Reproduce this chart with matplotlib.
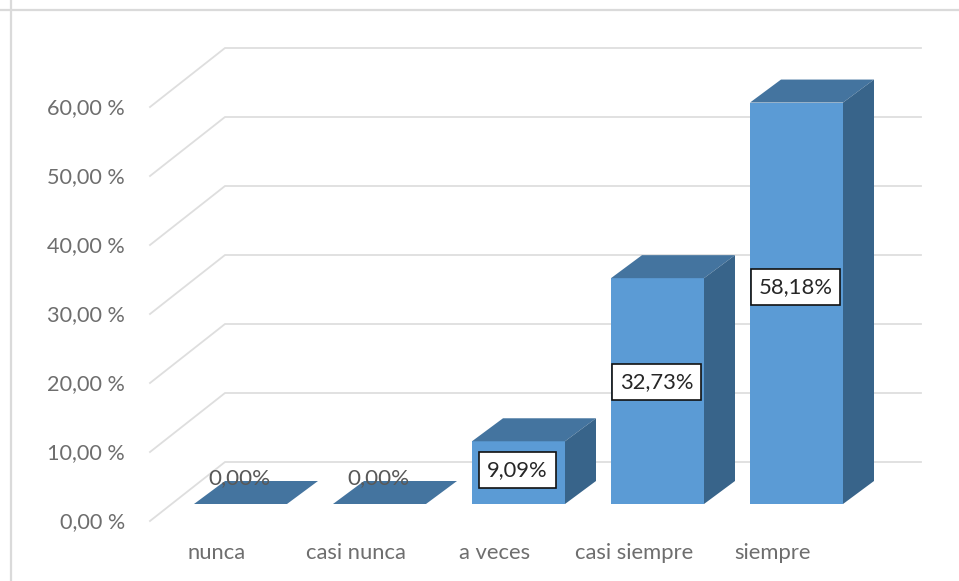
import matplotlib
matplotlib.use("Agg")
import matplotlib.pyplot as plt
from matplotlib.patches import Polygon

categories = ["nunca", "casi nunca", "a veces", "casi siempre", "siempre"]
values = [0.00, 0.00, 9.09, 32.73, 58.18]
value_labels = ["0,00%", "0,00%", "9,09%", "32,73%", "58,18%"]
ticks = [0, 10, 20, 30, 40, 50, 60]
tick_labels = ["0,00 %", "10,00 %", "20,00 %", "30,00 %", "40,00 %", "50,00 %", "60,00 %"]

W, H = 959, 581
X0, DX = 240.5, 139.0      # pixel of first category, pixels per category
Y0, DY = 504.0, 6.9        # pixel of value 0 on bar plane, pixels per percent

BAR_W = 93 / DX
DEPTH_X, DEPTH_Y = 31 / DX, 23 / DY      # bar depth
WALL_FRONT_X, WALL_FRONT_Y = (150 - X0) / DX, (Y0 - 521) / DY
WALL_BACK_X, WALL_BACK_Y = (225 - X0) / DX, (Y0 - 462) / DY
WALL_RIGHT_X = (921 - X0) / DX
TICK_NUDGE = -1.5 / DY

FRONT, TOP, SIDE = "#5B9BD5", "#44749F", "#38648A"
GRID, TEXT = "#DEDEDE", "#6E6E6E"
FONT = "Lato"

fig = plt.figure(figsize=(W / 100, H / 100), dpi=100)
ax = fig.add_axes([0, 0, 1, 1])
ax.set_xlim(-X0 / DX, (W - X0) / DX)
ax.set_ylim((Y0 - H) / DY, Y0 / DY)
ax.axis("off")

# outer chart border (top and left only are visible)
ax.plot(ax.get_xlim(), [(Y0 - 10) / DY] * 2, color="#DADADA", lw=1.6, zorder=1)
ax.plot([(11 - X0) / DX] * 2, ax.get_ylim(), color="#DADADA", lw=1.6, zorder=1)

# walls
for t, lab in zip(ticks, tick_labels):
    ax.plot([WALL_FRONT_X, WALL_BACK_X, WALL_RIGHT_X],
            [WALL_FRONT_Y + t, WALL_BACK_Y + t, WALL_BACK_Y + t],
            color=GRID, lw=1.3, zorder=1, solid_joinstyle="miter")
    ax.text(WALL_FRONT_X - 25 / DX, WALL_FRONT_Y + t + TICK_NUDGE, lab, ha="right", va="center",
            fontsize=15.6, color=TEXT, family=FONT, zorder=5)

# bars
for i, (v, vl, c) in enumerate(zip(values, value_labels, categories)):
    l, r = i - BAR_W / 2, i + BAR_W / 2
    ax.add_patch(Polygon([(l, 0), (r, 0), (r, v), (l, v)], fc=FRONT, ec="none", zorder=3))
    ax.add_patch(Polygon([(l, v), (r, v), (r + DEPTH_X, v + DEPTH_Y), (l + DEPTH_X, v + DEPTH_Y)],
                         fc=TOP, ec="none", zorder=3))
    ax.add_patch(Polygon([(r, 0), (r + DEPTH_X, DEPTH_Y), (r + DEPTH_X, v + DEPTH_Y), (r, v)],
                         fc=SIDE, ec="none", zorder=3))
    ax.text(i - 23.5 / DX, (Y0 - 553) / DY, c, ha="center", va="center",
            fontsize=15.8, color=TEXT, family=FONT, zorder=5)
    if v > 0:
        ax.text(i - 1 / DX, v * 0.54, vl, ha="center", va="center", fontsize=15.8, color="#262626",
                family=FONT, zorder=6,
                bbox=dict(boxstyle="square,pad=0.36", fc="white", ec="#111111", lw=1.2))
    else:
        ax.text(i - 1 / DX, v + DEPTH_Y + 0.45, vl, ha="center", va="center", fontsize=16.2,
                color="#595959", family=FONT, zorder=6)

fig.savefig("out.png", dpi=100, facecolor="white")
